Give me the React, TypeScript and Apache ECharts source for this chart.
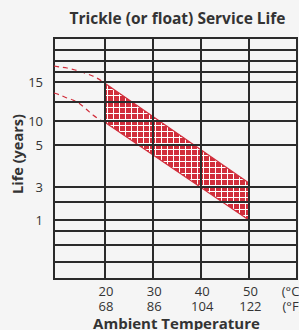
import React, { useEffect, useRef } from "react";
import * as echarts from "echarts";

// Temperature axis (°C) with Fahrenheit equivalents
const celsiusTicks = [20, 30, 40, 50];
const fahrenheitTicks = [68, 86, 104, 122];
const unitTickValue = 60;
// Horizontal chart rows (abstract axis units, bottom = 0, top = 241)
const rowLines = [17, 34, 48, 59, 77, 92, 134, 158, 177, 197, 207, 218, 229];
const lifeTickValues = [59, 92, 134, 158, 197];
const lifeTickLabels = ["1", "3", "5", "10", "15"];
// Service-life band (solid part, 20–50 °C)
const bandUpper: [number, number][] = [[20, 196], [50, 96]];
const bandLower: [number, number][] = [[20, 157], [50, 59]];
// Extrapolated (dashed) parts below 20 °C
const dashUpper: [number, number][] = [
  [9.5, 213], [10.75, 212], [12.2, 211], [13.9, 209], [15.3, 207], [17.0, 204], [18.4, 201], [20, 196],
];
const dashLower: [number, number][] = [
  [9.5, 186], [10.75, 184], [12.2, 181], [13.4, 179], [14.9, 175], [16.4, 169], [17.6, 164], [19.1, 159], [20, 157],
];

const RED = "#d12e3b";
const INK = "#2b2b2b";
const FONT = "'Open Sans', 'Noto Sans', sans-serif";

function makePattern(): string {
  const c = document.createElement("canvas");
  c.width = 6;
  c.height = 6;
  const ctx = c.getContext("2d")!;
  ctx.fillStyle = RED;
  ctx.fillRect(0, 0, 6, 6);
  ctx.fillStyle = "#ffffff";
  ctx.fillRect(5, 0, 1, 6);
  ctx.fillRect(0, 5, 6, 1);
  return c.toDataURL();
}

export default function App() {
  const ref = useRef<HTMLDivElement>(null);
  useEffect(() => {
    document.body.style.margin = "0";
    const chart = echarts.init(ref.current!, null, { renderer: "svg" });
    const pattern = makePattern();
    const bandPolygon = [...bandUpper, ...bandLower.slice().reverse()];
    const option: any = {
      animation: false,
      backgroundColor: "#f5f5f5",
      grid: {
        left: 54,
        right: 2,
        top: 38,
        bottom: 51,
        containLabel: false,
        outerBoundsMode: "none",
        show: true,
        borderColor: INK,
        borderWidth: 2,
        backgroundColor: "transparent",
      },
      xAxis: {
        type: "value",
        min: 9.5,
        max: 60,
        axisLine: { show: false },
        axisTick: { show: false },
        splitLine: { show: false },
        axisLabel: {
          customValues: [...celsiusTicks, unitTickValue],
          margin: 4,
          color: "#333",
          fontFamily: FONT,
          fontSize: 13,
          lineHeight: 15,
          padding: [0, 0, 0, 3],
          hideOverlap: false,
          rich: {
            u: {
              color: "#333",
              fontFamily: FONT,
              fontSize: 13,
              lineHeight: 15,
              padding: [0, 12, 0, 0],
            },
          },
          formatter: (v: number) => {
            const i = celsiusTicks.indexOf(v);
            if (i >= 0) return `${celsiusTicks[i]}\n${fahrenheitTicks[i]}`;
            return "{u|(°C)}\n{u|(°F)}";
          },
        },
      },
      yAxis: {
        type: "value",
        min: 0,
        max: 241,
        axisLine: { show: false },
        axisTick: { show: false },
        splitLine: { show: false },
        axisLabel: {
          customValues: lifeTickValues,
          margin: 11,
          color: "#333",
          fontFamily: FONT,
          fontSize: 13,
          formatter: (v: number) => {
            const i = lifeTickValues.indexOf(v);
            return i >= 0 ? lifeTickLabels[i] : "";
          },
        },
      },
      graphic: [
        {
          type: "text",
          style: {
            text: "Trickle (or float) Service Life",
            x: 177.5,
            y: 17.5,
            align: "center",
            verticalAlign: "middle",
            fill: "#333",
            font: `bold 15.5px ${FONT}`,
          },
        },
        {
          type: "text",
          x: 17,
          y: 154,
          rotation: Math.PI / 2,
          style: {
            text: "Life (years)",
            x: 0,
            y: 0,
            align: "center",
            verticalAlign: "middle",
            fill: "#333",
            font: `bold 14.5px ${FONT}`,
          },
        },
        {
          type: "text",
          style: {
            text: "Ambient Temperature",
            x: 176.5,
            y: 322.5,
            align: "center",
            verticalAlign: "middle",
            fill: "#333",
            font: `bold 15px ${FONT}`,
          },
        },
      ],
      series: [
        {
          type: "custom",
          data: bandPolygon,
          z: 2,
          renderItem: (params: any, api: any) => {
            if (params.dataIndex !== 0) return null;
            const pts = bandPolygon.map((p) => api.coord(p));
            return {
              type: "polygon",
              shape: { points: pts },
              style: {
                fill: { image: pattern, repeat: "repeat", imageWidth: 6, imageHeight: 6 },
              },
            };
          },
        },
        {
          type: "line",
          data: bandUpper,
          symbol: "none",
          z: 3,
          lineStyle: { color: RED, width: 1.2 },
        },
        {
          type: "line",
          data: bandLower,
          symbol: "none",
          z: 3,
          lineStyle: { color: RED, width: 1.2 },
        },
        {
          type: "line",
          data: dashUpper,
          symbol: "none",
          smooth: 0.3,
          z: 2,
          lineStyle: { color: RED, width: 1.2, type: [5, 4] },
        },
        {
          type: "line",
          data: dashLower,
          symbol: "none",
          smooth: 0.3,
          z: 2,
          lineStyle: { color: RED, width: 1.2, type: [5, 4] },
        },
        {
          type: "line",
          data: [],
          z: 5,
          markLine: {
            silent: true,
            symbol: "none",
            label: { show: false },
            lineStyle: { color: INK, width: 2, type: "solid" },
            data: [
              ...rowLines.map((y) => ({ yAxis: y })),
              ...celsiusTicks.map((x) => ({ xAxis: x })),
            ],
          },
        },
      ],
    };
    chart.setOption(option);
    return () => chart.dispose();
  }, []);
  return <div ref={ref} style={{ width: 299, height: 330, position: "absolute", left: 0, top: 0 }} />;
}
